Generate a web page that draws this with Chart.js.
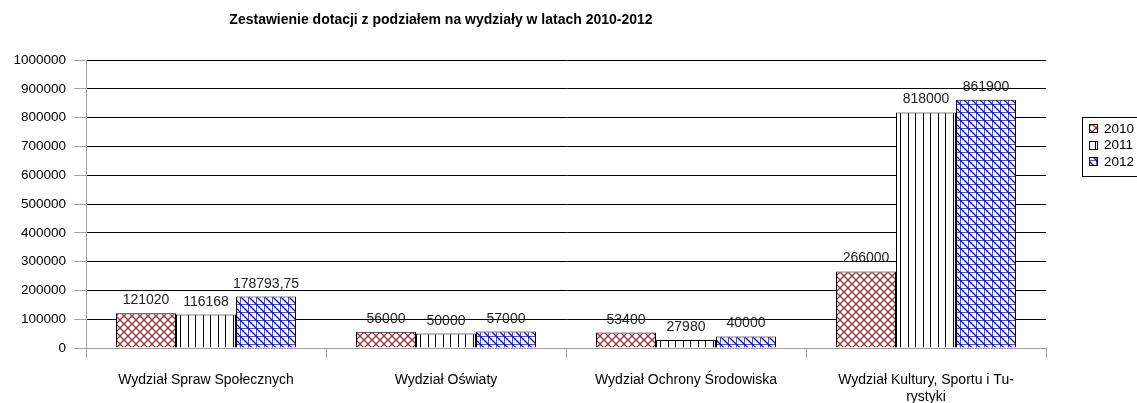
<!DOCTYPE html>
<html>
<head>
<meta charset="utf-8">
<script src="https://cdn.jsdelivr.net/npm/chart.js@4.4.1/dist/chart.umd.min.js"></script>
<style>
  body { margin: 0; background: #fff; }
  #wrap { width: 1137px; height: 403px; }
</style>
</head>
<body>
<div id="wrap"><canvas id="chart"></canvas></div>
<script>
const categories = [
    'Wydział Spraw Społecznych',
    'Wydział Oświaty',
    'Wydział Ochrony Środowiska',
    ['Wydział Kultury, Sportu i Tu-', 'rystyki']
];
const years = ['2010', '2011', '2012'];
const values2010 = [121020, 56000, 53400, 266000];
const values2011 = [116168, 50000, 27980, 818000];
const values2012 = [178793.75, 57000, 40000, 861900];
const yTicks = [0, 100000, 200000, 300000, 400000, 500000, 600000, 700000, 800000, 900000, 1000000];

const FONT = 'Liberation Sans, Arial, sans-serif';

// hatch patterns like the old office chart
function makePattern(kind) {
    const c = document.createElement('canvas');
    const size = kind === 'vert' ? 15 : 8;
    c.width = size; c.height = size;
    const g = c.getContext('2d');
    g.fillStyle = '#fff';
    g.fillRect(0, 0, size, size);
    if (kind === 'cross') {
        g.strokeStyle = '#993333';
        g.lineWidth = 1.3;
        g.beginPath();
        g.moveTo(-1, -1); g.lineTo(9, 9);
        g.moveTo(9, -1); g.lineTo(-1, 9);
        g.stroke();
    } else if (kind === 'vert') {
        g.strokeStyle = '#000';
        g.lineWidth = 1;
        g.beginPath();
        g.moveTo(0.5, 0); g.lineTo(0.5, size);
        g.moveTo(8.5, 0); g.lineTo(8.5, size);
        g.stroke();
    } else {
        g.strokeStyle = '#4848ff';
        g.lineWidth = 1;
        g.beginPath();
        g.moveTo(0, 0.5); g.lineTo(size, 0.5);
        g.moveTo(0.5, 0); g.lineTo(0.5, size);
        g.stroke();
        g.strokeStyle = '#0000ff';
        g.lineWidth = 1.3;
        g.beginPath();
        g.moveTo(-1, -1); g.lineTo(9, 9);
        g.stroke();
    }
    return g.createPattern(c, 'repeat');
}

const fills = [makePattern('cross'), makePattern('vert'), makePattern('diag')];

function fmt(v) {
    return String(v).replace('.', ',');
}

const extras = {
    id: 'extras',
    afterDatasetsDraw(chart) {
        const ctx = chart.ctx;
        ctx.save();
        ctx.font = '14px ' + FONT;
        ctx.fillStyle = '#222';
        ctx.textAlign = 'center';
        ctx.textBaseline = 'alphabetic';
        chart.data.datasets.forEach((ds, i) => {
            chart.getDatasetMeta(i).data.forEach((bar, j) => {
                ctx.fillText(fmt(ds.data[j]), bar.x, bar.y - 9);
            });
        });
        ctx.restore();
    },
    afterDraw(chart) {
        const ctx = chart.ctx;
        const a = chart.chartArea;
        ctx.save();
        // title
        ctx.font = 'bold 14px ' + FONT;
        ctx.fillStyle = '#000';
        ctx.textAlign = 'center';
        ctx.textBaseline = 'middle';
        ctx.fillText('Zestawienie dotacji z podziałem na wydziały w latach 2010-2012', 441, 20);
        // legend
        const lx = a.right + 36, ly = 117;
        ctx.strokeStyle = '#000';
        ctx.lineWidth = 1;
        ctx.strokeRect(lx + 0.5, ly + 0.5, 80, 59);
        ctx.font = '13.5px ' + FONT;
        ctx.textAlign = 'left';
        years.forEach((y, i) => {
            const cy = ly + 11 + i * 16.5;
            ctx.fillStyle = fills[i];
            ctx.fillRect(lx + 7, Math.round(cy - 4), 8, 8);
            ctx.strokeRect(lx + 7.5, Math.round(cy - 4) + 0.5, 8, 8);
            ctx.fillStyle = '#000';
            ctx.fillText(y, lx + 22, cy + 1);
        });
        ctx.restore();
    }
};

new Chart(document.getElementById('chart'), {
    type: 'bar',
    data: {
        labels: categories,
        datasets: years.map((y, i) => ({
            label: y,
            data: [values2010, values2011, values2012][i],
            backgroundColor: fills[i],
            borderColor: '#000',
            borderWidth: 1,
            barPercentage: 1,
            categoryPercentage: 0.75
        }))
    },
    options: {
        responsive: true,
        maintainAspectRatio: false,
        animation: false,
        layout: { padding: { left: 0, right: 91, top: 60, bottom: 0 } },
        plugins: {
            legend: { display: false },
            title: { display: false },
            tooltip: { enabled: false }
        },
        scales: {
            x: {
                grid: {
                    drawOnChartArea: false,
                    drawTicks: true,
                    tickLength: 10,
                    tickColor: '#a0a0a0',
                    offset: true
                },
                border: { color: '#a0a0a0' },
                ticks: {
                    color: '#000',
                    font: { family: FONT, size: 14, lineHeight: 1.25 },
                    padding: 13,
                    maxRotation: 0,
                    autoSkip: false
                },
                afterFit(scale) { scale.height = 55; }
            },
            y: {
                min: 0,
                max: 1000000,
                afterBuildTicks(scale) { scale.ticks = yTicks.map(v => ({ value: v })); },
                grid: {
                    color: '#000',
                    tickColor: '#a0a0a0',
                    tickLength: 12
                },
                border: { color: '#a0a0a0' },
                ticks: {
                    color: '#000',
                    font: { family: FONT, size: 13.5 },
                    padding: 8,
                    callback: v => String(v)
                },
                afterFit(scale) { scale.width = 86; }
            }
        }
    },
    plugins: [extras]
});
</script>
</body>
</html>
